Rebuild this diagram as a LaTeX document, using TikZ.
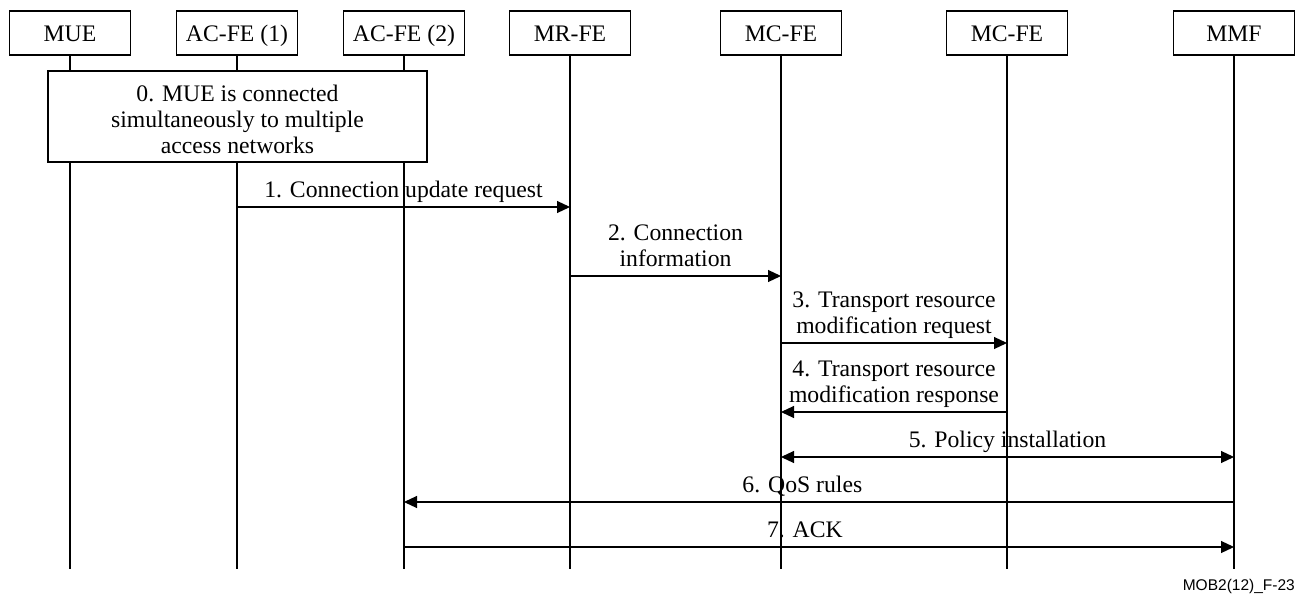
\documentclass[tikz,border=0pt]{standalone}
\usepackage{fontspec}
\setmainfont{Liberation Serif}
\newfontfamily\tagfont{Liberation Sans}
\usetikzlibrary{arrows.meta}
\begin{document}
\begin{tikzpicture}[x=1pt,y=-1pt,
  every node/.style={font=\fontsize{23.7}{26}\selectfont},
  entity/.style={draw, line width=1.1pt, minimum width=121pt, minimum height=44pt, inner sep=0pt,
                 text height=20pt, text depth=2pt},
  life/.style={line width=1.1pt},
  msg/.style={line width=1.1pt, -{Triangle[length=13pt,width=12pt]}},
  msgboth/.style={line width=1.1pt, {Triangle[length=13pt,width=12pt]}-{Triangle[length=13pt,width=12pt]}},
  lbl/.style={anchor=south, inner sep=0pt, text depth=0pt, align=center, yshift=9pt},
  notebox/.style={draw, fill=white, line width=1.1pt, minimum width=379pt, minimum height=91pt, inner sep=0pt},
  notetext/.style={align=center, inner sep=0pt}
]
\useasboundingbox (0,0) rectangle (1301,594);

% participants
\node[entity] (mue) at (70,33)   {MUE};
\node[entity] (ac1) at (237,33)  {AC-FE (1)};
\node[entity] (ac2) at (404,33)  {AC-FE (2)};
\node[entity] (mr)  at (570,33)  {MR-FE};
\node[entity] (mc1) at (781,33)  {MC-FE};
\node[entity] (mc2) at (1007,33) {MC-FE};
\node[entity] (mmf) at (1234,33) {MMF};

% lifelines
\coordinate (bottom) at (0,569);
\foreach \p in {mue,ac1,ac2,mr,mc1,mc2,mmf}
  \draw[life] (\p.south) -- (\p |- bottom);

% step 0 note across the access side
\node[notebox] (note) at (237.5,116.5) {};
\node[notetext] (notetxt) at ([yshift=-2.5pt]note.center)
  {0. MUE is connected\\simultaneously to multiple\\access networks};

% message rows
\coordinate (r1) at (0,207);
\coordinate (r2) at (0,276);
\coordinate (r3) at (0,343);
\coordinate (r4) at (0,412);
\coordinate (r5) at (0,457);
\coordinate (r6) at (0,502);
\coordinate (r7) at (0,547);

\draw[msg] (ac1 |- r1) -- node[lbl, midway] {1. Connection update request} (mr |- r1);
\draw[msg] (mr |- r2) -- node[lbl, midway] {2. Connection\\information} (mc1 |- r2);
\draw[msg] (mc1 |- r3) -- node[lbl, midway] {3. Transport resource\\modification request} (mc2 |- r3);
\draw[msg] (mc2 |- r4) -- node[lbl, midway] {4. Transport resource\\modification response} (mc1 |- r4);
\draw[msgboth] (mc1 |- r5) -- node[lbl, midway] {5. Policy installation} (mmf |- r5);
\draw[msg] (mmf |- r6) -- node[lbl, pos=0.52] {6. QoS rules} (ac2 |- r6);
\draw[msg] (ac2 |- r7) -- node[lbl, pos=0.483] {7. ACK} (mmf |- r7);

% figure tag
\node[font=\tagfont\fontsize{15.5}{18}\selectfont, anchor=base east, inner sep=0pt] (tag) at (1295,590) {MOB2(12)\_F-23};
\end{tikzpicture}
\end{document}
